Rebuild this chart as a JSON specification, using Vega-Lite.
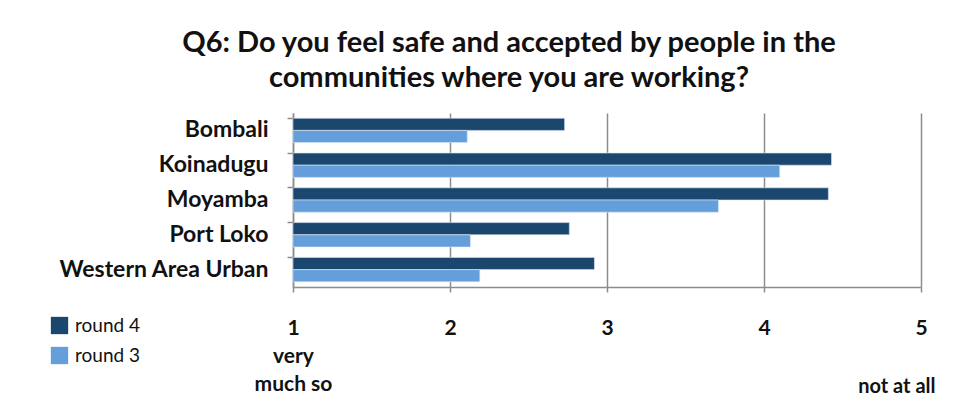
{
  "$schema": "https://vega.github.io/schema/vega-lite/v6.json",
  "width": 628,
  "height": 174,
  "autosize": "none",
  "padding": {"left": 293, "top": 113, "right": 34, "bottom": 119},
  "background": "white",
  "config": {
    "font": "Lato",
    "view": {"stroke": null}
  },
  "title": {
    "text": ["Q6: Do you feel safe and accepted by people in the", "communities where you are working?"],
    "fontSize": 29,
    "fontWeight": "bold",
    "color": "#111111",
    "anchor": "middle",
    "dx": -98,
    "lineHeight": 35,
    "offset": 20
  },
  "data": {
    "values": [
      {"district": "Bombali", "round": "round 4", "value": 2.73},
      {"district": "Bombali", "round": "round 3", "value": 2.11},
      {"district": "Koinadugu", "round": "round 4", "value": 4.43},
      {"district": "Koinadugu", "round": "round 3", "value": 4.10},
      {"district": "Moyamba", "round": "round 4", "value": 4.41},
      {"district": "Moyamba", "round": "round 3", "value": 3.71},
      {"district": "Port Loko", "round": "round 4", "value": 2.76},
      {"district": "Port Loko", "round": "round 3", "value": 2.13},
      {"district": "Western Area Urban", "round": "round 4", "value": 2.92},
      {"district": "Western Area Urban", "round": "round 3", "value": 2.19}
    ]
  },
  "mark": {"type": "bar", "stroke": "#dbe6f2", "strokeWidth": 0.6},
  "encoding": {
    "y": {
      "field": "district",
      "type": "nominal",
      "sort": ["Bombali", "Koinadugu", "Moyamba", "Port Loko", "Western Area Urban"],
      "scale": {"paddingInner": 0.3, "paddingOuter": 0.15},
      "axis": {
        "title": null,
        "domain": true,
        "domainColor": "#8c8c8c",
        "domainWidth": 1.5,
        "ticks": true,
        "tickColor": "#8c8c8c",
        "tickWidth": 1.5,
        "tickSize": 6,
        "bandPosition": 0,
        "labelFontSize": 23,
        "labelFontWeight": "bold",
        "labelColor": "#111111",
        "labelPadding": 19,
        "labelLimit": 300
      }
    },
    "yOffset": {"field": "round", "sort": ["round 4", "round 3"]},
    "x": {
      "field": "value",
      "type": "quantitative",
      "scale": {"domain": [1, 5], "nice": false, "zero": false},
      "axis": {
        "values": [1, 2, 3, 4, 5],
        "grid": true,
        "gridColor": "#8c8c8c",
        "gridWidth": 1.5,
        "domain": true,
        "domainColor": "#8c8c8c",
        "domainWidth": 1.5,
        "ticks": true,
        "tickColor": "#8c8c8c",
        "tickWidth": 1.5,
        "tickSize": 5,
        "labelFlush": false,
        "labelFontSize": 21,
        "labelFontWeight": "bold",
        "labelColor": "#111111",
        "labelPadding": 25,
        "labelLineHeight": 28,
        "labelExpr": "datum.value == 1 ? ['1', 'very', 'much so'] : datum.label",
        "title": "not at all",
        "titleFontSize": 20,
        "titleFontWeight": "bold",
        "titleColor": "#111111",
        "titleAnchor": "end",
        "titleAlign": "right",
        "titleBaseline": "middle",
        "titleX": 642,
        "titleY": 99
      }
    },
    "x2": {"datum": 1},
    "color": {
      "field": "round",
      "type": "nominal",
      "scale": {"domain": ["round 4", "round 3"], "range": ["#1b476e", "#659fdb"]},
      "legend": {
        "title": null,
        "orient": "none",
        "legendX": -243,
        "legendY": 203,
        "symbolType": "square",
        "symbolSize": 300,
        "symbolStrokeWidth": 0,
        "labelFontSize": 19,
        "labelColor": "#111111",
        "rowPadding": 10,
        "labelOffset": 6
      }
    }
  }
}
